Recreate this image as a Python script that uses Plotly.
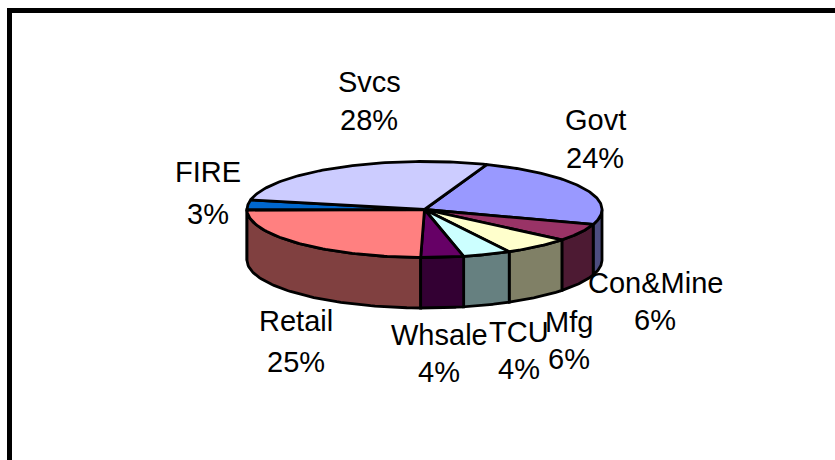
import numpy as np
import plotly.graph_objects as go

categories = ["Govt", "Con&Mine", "Mfg", "TCU", "Whsale", "Retail", "FIRE", "Svcs"]
shares = [24.45, 5.9, 6.2, 4.4, 3.9, 24.6, 3.4, 27.6]
top_colors = ["#9999FF", "#993366", "#FFFFCC", "#CCFFFF", "#660066", "#FF8080", "#0066CC", "#CCCCFF"]
side_colors = ["#4D4D80", "#4D1A33", "#808066", "#668080", "#330033", "#804040", "#003366", "#666680"]
label_lines = [("Govt", "24%"), ("Con&Mine", "6%"), ("Mfg", "6%"), ("TCU", "4%"),
               ("Whsale", "4%"), ("Retail", "25%"), ("FIRE", "3%"), ("Svcs", "28%")]

# layout constants (pixels)
W, H = 835, 460
CX, CY, RX, RY, DEPTH = 424.5, 209.5, 177.5, 48, 50.5
START_DEG = 20.5
LABEL_XY = [(595, 120, 158), (655, 283, 320), (569, 322, 359), (519, 332, 369),
            (439, 335, 372), (296, 321, 362), (208, 172, 214), (369, 82, 120)]
FONT = "Liberation Sans, Arial, sans-serif"
FONT_SIZE = 29


def rim(theta):
    t = np.radians(theta)
    return CX + RX * np.sin(t), CY - RY * np.cos(t)


fracs = np.array(shares) / sum(shares) * 360
starts = START_DEG + np.concatenate([[0], np.cumsum(fracs)[:-1]])
ends = starts + fracs
fig = go.Figure()


def poly(xs, ys, color):
    fig.add_trace(go.Scatter(x=xs, y=ys, mode="lines", fill="toself", fillcolor=color,
                             line=dict(color="black", width=2.8), hoverinfo="skip", showlegend=False))


# side walls: only the front half of the rim is visible
for i in np.argsort(-np.abs((starts + ends) / 2 - 180)):
    a, b = max(starts[i], 90), min(ends[i], 270)
    if b <= a:
        continue
    th = np.linspace(a, b, 60)
    x, y = rim(th)
    poly(np.r_[x, x[::-1], x[0]], np.r_[y, y[::-1] + DEPTH, y[0]], side_colors[i])

# top faces
for i in range(len(shares)):
    th = np.linspace(starts[i], ends[i], 90)
    x, y = rim(th)
    poly(np.r_[CX, x, CX], np.r_[CY, y, CY], top_colors[i])

for (l1, l2), (x, y1, y2) in zip(label_lines, LABEL_XY):
    for txt, y in ((l1, y1), (l2, y2)):
        fig.add_annotation(x=x, y=y, text=txt, showarrow=False, xref="x", yref="y",
                           xanchor="center", yanchor="middle",
                           font=dict(family=FONT, size=FONT_SIZE, color="black"))

# chart-area border, cropped at the right and bottom of the picture
fig.add_shape(type="line", x0=7, x1=W, y0=10.5, y1=10.5, line=dict(color="black", width=5), layer="above")
fig.add_shape(type="line", x0=9.5, x1=9.5, y0=8, y1=H, line=dict(color="black", width=5), layer="above")

fig.update_layout(width=W, height=H, margin=dict(l=0, r=0, t=0, b=0),
                  paper_bgcolor="white", plot_bgcolor="white", showlegend=False,
                  xaxis=dict(range=[0, W], visible=False, fixedrange=True),
                  yaxis=dict(range=[H, 0], visible=False, fixedrange=True))
fig.write_html("out.html", config={"displayModeBar": False},
               post_script="document.body.style.margin='0';document.documentElement.style.overflow='hidden';")
